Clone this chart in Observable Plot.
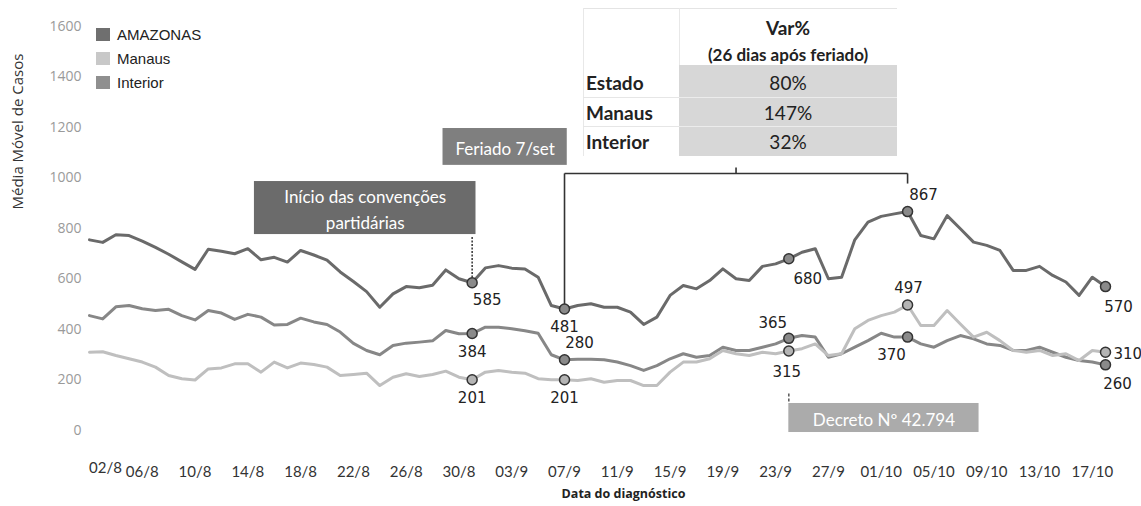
<!DOCTYPE html>
<html><head><meta charset="utf-8">
<script src="https://cdn.jsdelivr.net/npm/d3@7"></script>
<script src="https://cdn.jsdelivr.net/npm/@observablehq/plot@0.6"></script>
<style>
body{margin:0;background:#fff;}
#wrap{position:relative;width:1141px;height:506px;overflow:hidden;background:#fff;}
#wrap svg{position:absolute;left:0;top:0;}
.leg{position:absolute;left:96px;font-family:"Liberation Sans",Arial,sans-serif;font-size:15px;color:#222;display:flex;align-items:center;height:20px;}
.leg i{display:inline-block;width:14px;height:13px;margin-right:7px;}
.tb{position:absolute;font-family:Lato,"Open Sans",sans-serif;color:#222;white-space:nowrap;}
</style></head><body><div id="wrap"></div>
<script>
// ---------- data ----------
const seriesNames = ["AMAZONAS", "Manaus", "Interior"];
const seriesColors = ["#6a6a6a", "#bfbfbf", "#878787"];
const startDay = "2020-08-02";
const endDayExclusive = "2020-10-19";
const amazonas = [755,745,775,772,750,725,698,668,638,718,710,700,720,676,686,667,713,695,675,628,590,550,488,541,570,565,575,636,601,585,644,653,643,640,607,495,481,495,502,488,488,469,420,449,535,574,561,594,640,601,594,650,660,680,706,720,601,607,755,825,848,858,867,772,759,851,799,746,733,713,634,634,650,614,588,535,607,570];
const manaus = [310,312,297,284,271,251,218,205,200,244,248,264,264,231,271,248,267,261,251,218,222,227,178,211,225,214,222,235,211,201,231,238,231,227,205,201,201,198,205,191,198,198,178,178,231,271,271,284,317,304,297,310,304,315,324,343,297,304,403,436,455,469,497,416,416,475,422,370,389,356,317,310,317,297,304,277,317,310];
const interior = [455,442,490,495,482,475,480,455,438,475,465,440,460,449,418,420,445,430,420,390,345,317,300,337,346,350,355,396,383,384,409,409,403,395,385,300,280,282,282,280,271,257,238,257,284,304,290,297,330,317,317,330,343,365,376,370,290,304,330,356,385,370,370,343,330,356,376,363,343,337,317,317,330,310,290,277,271,260];
const yTicks = [0,200,400,600,800,1000,1200,1400,1600];
const xTickDates = ["2020-08-02","2020-08-06","2020-08-10","2020-08-14","2020-08-18","2020-08-22","2020-08-26","2020-08-30","2020-09-03","2020-09-07","2020-09-11","2020-09-15","2020-09-19","2020-09-23","2020-09-27","2020-10-01","2020-10-05","2020-10-09","2020-10-13","2020-10-17"];
const xTickLabels = ["02/8","06/8","10/8","14/8","18/8","22/8","26/8","30/8","03/9","07/9","11/9","15/9","19/9","23/9","27/9","01/10","05/10","09/10","13/10","17/10"];
// highlighted points: [series, date]
const highlighted = [
  ["AMAZONAS","2020-08-31"],["Interior","2020-08-31"],["Manaus","2020-08-31"],
  ["AMAZONAS","2020-09-07"],["Interior","2020-09-07"],["Manaus","2020-09-07"],
  ["AMAZONAS","2020-09-24"],["Interior","2020-09-24"],["Manaus","2020-09-24"],
  ["AMAZONAS","2020-10-03"],["Manaus","2020-10-03"],["Interior","2020-10-03"],
  ["AMAZONAS","2020-10-18"],["Manaus","2020-10-18"],["Interior","2020-10-18"]
];
// annotation boxes (data space)
const boxTexts = ["Início das convenções\npartidárias", "Feriado 7/set", "Decreto Nº 42.794"];
const boxX1 = ["2020-08-14T12:00Z","2020-08-28T19:00Z","2020-09-24T00:00Z"];
const boxX2 = ["2020-08-31T07:00Z","2020-09-07T05:00Z","2020-10-08T10:00Z"];
const boxY1 = [776, 1050, -8];
const boxY2 = [986, 1196, 107];
const boxColors = ["#6b6b6b", "#7f7f7f", "#ababab"];
const tableHeader = ["Var%", "(26 dias após feriado)"];
const tableRows = ["Estado", "Manaus", "Interior"];
const tableValues = ["80%", "147%", "32%"];
const yTitle = "Média Móvel de Casos";
const xTitle = "Data do diagnóstico";

// ---------- build ----------
const P = d3.utcParse("%Y-%m-%d");
const days = d3.utcDay.range(P(startDay), P(endDayExclusive));
const valuesBy = {AMAZONAS: amazonas, Manaus: manaus, Interior: interior};
const rows = [];
for (const s of ["Interior","Manaus","AMAZONAS"]) valuesBy[s].forEach((v,i)=>rows.push({s, date: days[i], v}));
const idxOf = ds => days.findIndex(d => +d === +P(ds));
const pts = highlighted.map(([s, ds]) => ({s, date: P(ds), v: valuesBy[s][idxOf(ds)]}));
// label offsets (layout), same order as highlighted
const off = [[15,17,"middle"],[0,19,"middle"],[0,18,"middle"],
             [0,18,"middle"],[15,-17,"middle"],[0,18,"middle"],
             [19,20,"middle"],[-16,-15,"middle"],[-2,21,"middle"],
             [16,-16,"middle"],[1,-17,"middle"],[-16,18,"middle"],
             [13,21,"middle"],[8,2,"start"],[12,19,"middle"]];
const boxes = boxTexts.map((t,i)=>({t, x1:new Date(boxX1[i]), x2:new Date(boxX2[i]), y1:boxY1[i], y2:boxY2[i], c:boxColors[i]}));
const boxCenter = b => ({t:b.t, x:new Date((+b.x1 + +b.x2)/2), y:(b.y1+b.y2)/2});
const color = d3.scaleOrdinal(seriesNames, seriesColors);
const D = s => P(s);

const marks = [
  Plot.axisY({ticks: yTicks, tickFormat: d => String(d), tickSize: 0, tickPadding: 8, label: null, fontSize: 14, fill: "#9a9a9a", fontFamily: "'Open Sans', sans-serif"}),
  Plot.axisX({ticks: xTickDates.slice(1).map(D), tickFormat: d => xTickLabels[xTickDates.indexOf(d3.utcFormat("%Y-%m-%d")(d))], tickSize: 0, tickPadding: 36, label: null, fontSize: 15, fill: "#333", fontFamily: "Lato, sans-serif"}),
  Plot.text([xTickLabels[0]], {x: [D(xTickDates[0])], frameAnchor: "bottom", dy: 42, dx: 16, fontSize: 15, fill: "#333", fontFamily: "Lato, sans-serif"}),
  Plot.text([yTitle], {frameAnchor: "left", rotate: -90, dx: -71, dy: -19, fontSize: 15, fill: "#333", fontFamily: "'Open Sans', sans-serif"}),
  Plot.text([xTitle], {frameAnchor: "bottom", dx: 26, dy: 67, fontSize: 12.5, fontWeight: "bold", fill: "#222", fontFamily: "'Open Sans', sans-serif"}),
  // boxes
  Plot.rect(boxes, {x1:"x1", x2:"x2", y1:"y1", y2:"y2", fill: d=>d.c}),
  Plot.text(boxes.map(boxCenter), {x:"x", y:"y", text:"t", fill:"#fff", fontSize: 17, lineHeight: 1.5, fontFamily: "Lato, sans-serif"}),
  // connectors / bracket
  Plot.link([{x1:D("2020-08-31"), y1:766, x2:D("2020-08-31"), y2:605}], {x1:"x1",y1:"y1",x2:"x2",y2:"y2", stroke:"#333", strokeWidth:1.5, strokeDasharray:"2,1.5"}),
  Plot.link([{x1:D("2020-09-24"), y1:147, x2:D("2020-09-24"), y2:111}], {x1:"x1",y1:"y1",x2:"x2",y2:"y2", stroke:"#555", strokeWidth:1.5, strokeDasharray:"3,2"}),
  Plot.link([
    {x1:D("2020-09-07"), y1:481, x2:D("2020-09-07"), y2:1018},
    {x1:D("2020-09-07"), y1:1018, x2:D("2020-10-03"), y2:1018},
    {x1:D("2020-09-20"), y1:1018, x2:D("2020-09-20"), y2:1042},
    {x1:D("2020-10-03"), y1:1018, x2:D("2020-10-03"), y2:978}
  ], {x1:"x1",y1:"y1",x2:"x2",y2:"y2", stroke:"#333", strokeWidth:1.6}),
  // lines
  Plot.line(rows, {x:"date", y:"v", z:"s", stroke: d=>color(d.s), strokeWidth: 3, curve: "linear"}),
  Plot.dot(pts, {x:"date", y:"v", r: 5, fill: d=>d.s==="Manaus" ? "#b4b4b4" : "#8a8a8a", stroke: "#333", strokeWidth: 1.5}),
  ...pts.map((p,i)=>Plot.text([p], {x:"date", y:"v", text: d=>String(d.v), dx: off[i][0], dy: off[i][1], textAnchor: off[i][2], fontSize: 15, fill: "#222", fontFamily: "'DejaVu Sans', sans-serif"}))
];

const chart = Plot.plot({
  width: 1141, height: 506,
  marginLeft: 89, marginRight: 36, marginTop: 26, marginBottom: 76,
  x: {type: "utc", domain: [days[0], days[days.length-1]]},
  y: {domain: [0, 1600]},
  style: {background: "transparent", overflow: "visible"},
  marks
});
const wrap = document.getElementById("wrap");
wrap.appendChild(chart);

// legend
const legendSwatch = ["#6f6f6f", "#c8c8c8", "#8f8f8f"];
seriesNames.forEach((s,i)=>{
  const el = document.createElement("div");
  el.className = "leg";
  el.style.top = (24 + i*24) + "px";
  el.innerHTML = `<i style="background:${legendSwatch[i]}"></i>${s}`;
  wrap.appendChild(el);
});

// table
function add(html, css){ const e=document.createElement("div"); e.className="tb"; e.innerHTML=html; Object.assign(e.style, css); wrap.appendChild(e); return e;}
add("", {left:"583px", top:"8px", width:"314px", height:"1px", background:"#e4e4e4"});
add("", {left:"583px", top:"8px", width:"1px", height:"148px", background:"#e8e8e8"});
add("", {left:"679px", top:"8px", width:"1px", height:"57px", background:"#e8e8e8"});
add("", {left:"679px", top:"65px", width:"218px", height:"91px", background:"#d7d7d7"});
[97,126].forEach(y=>{
  add("", {left:"679px", top:y+"px", width:"218px", height:"1px", background:"#ececec"});
  add("", {left:"583px", top:y+"px", width:"96px", height:"1px", background:"#e6e6e6"});
});
add(tableHeader[0], {left:"679px", width:"218px", textAlign:"center", top:"16px", fontSize:"19px", fontWeight:"bold", lineHeight:"24px"});
add(tableHeader[1], {left:"679px", width:"218px", textAlign:"center", top:"43px", fontSize:"17px", fontWeight:"bold", lineHeight:"24px"});
const rowY = [83, 113, 142];
tableRows.forEach((r,i)=>{
  add(r, {left:"586px", top:(rowY[i]-12)+"px", fontSize:"19px", fontWeight:"bold", lineHeight:"24px"});
  add(tableValues[i], {left:"679px", width:"218px", textAlign:"center", top:(rowY[i]-12)+"px", fontSize:"19px", lineHeight:"24px"});
});
</script>
</body></html>
